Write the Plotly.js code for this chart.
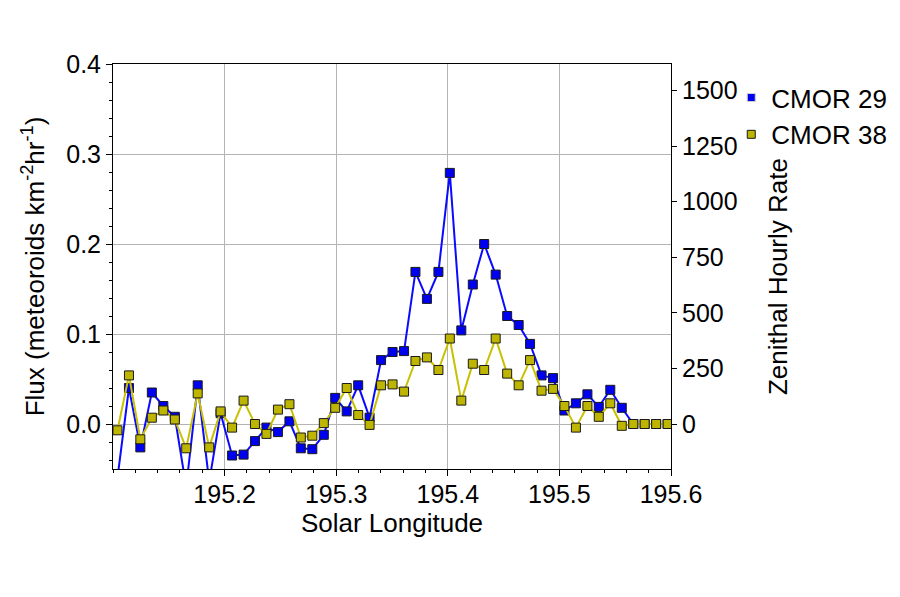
<!DOCTYPE html>
<html>
<head>
<meta charset="utf-8">
<script src="https://cdn.plot.ly/plotly-3.0.1.min.js"></script>
<style>html,body{margin:0;padding:0;background:#fff;}#chart{width:900px;height:597px;}</style>
</head>
<body>
<div id="chart"></div>
<script>
// Solar longitude of each bin (15-minute bins)
var solarLongitude = [
  195.1040, 195.1143, 195.1245, 195.1348, 195.1451, 195.1554, 195.1656, 195.1759, 195.1862, 195.1964,
  195.2067, 195.2170, 195.2272, 195.2375, 195.2478, 195.2581, 195.2683, 195.2786, 195.2889, 195.2991,
  195.3094, 195.3197, 195.3299, 195.3402, 195.3505, 195.3608, 195.3710, 195.3813, 195.3916, 195.4018,
  195.4121, 195.4224, 195.4326, 195.4429, 195.4532, 195.4635, 195.4737, 195.4840, 195.4943, 195.5045,
  195.5148, 195.5251, 195.5353, 195.5456, 195.5559, 195.5662, 195.5764, 195.5867, 195.5970
];

// Flux, meteoroids km^-2 hr^-1
var cmor29 = [
  -0.060, 0.040, -0.026, 0.035, 0.020, 0.008, -0.070, 0.043, -0.064, 0.012,
  -0.035, -0.034, -0.019, -0.004, -0.009, 0.003, -0.027, -0.028, -0.012, 0.029,
  0.014, 0.043, 0.007, 0.071, 0.080, 0.081, 0.169, 0.139, 0.169, 0.279,
  0.104, 0.155, 0.200, 0.166, 0.120, 0.110, 0.089, 0.054, 0.051, 0.015,
  0.023, 0.033, 0.019, 0.038, 0.018, 0.000, 0.000, 0.000, 0.000
];

var cmor38 = [
  -0.007, 0.054, -0.017, 0.007, 0.015, 0.005, -0.027, 0.034, -0.026, 0.014,
  -0.004, 0.026, 0.000, -0.011, 0.016, 0.022, -0.015, -0.013, 0.001, 0.018,
  0.040, 0.010, -0.001, 0.043, 0.044, 0.036, 0.070, 0.074, 0.060, 0.095,
  0.026, 0.067, 0.060, 0.095, 0.056, 0.043, 0.071, 0.037, 0.039, 0.020,
  -0.004, 0.020, 0.008, 0.023, -0.002, 0.000, 0.000, 0.000, 0.000
];

var seriesNames = ["CMOR 29", "CMOR 38"];
var xTickVals = [195.2, 195.3, 195.4, 195.5, 195.6];
var xTickText = ["195.2", "195.3", "195.4", "195.5", "195.6"];
var xTitle = "Solar Longitude";
var yTitle = "Flux (meteoroids km<sup>-2</sup>hr<sup>-1</sup>)";
var y2Title = "Zenithal Hourly Rate";

var fluxRange = [-0.05, 0.4];
var zhrPerFlux = 4046.75;

var colors = {
  blueLine: "#0a0aff", blueFill: "#0000f0",
  oliveLine: "#c8c000", oliveFill: "#bdb500"
};

var traces = [
  {
    x: solarLongitude, y: cmor29, name: seriesNames[0], showlegend: false,
    type: "scatter", mode: "lines+markers", cliponaxis: true,
    line: {color: colors.blueLine, width: 2},
    marker: {symbol: "square", size: 9, color: colors.blueFill, line: {color: "#1a1a1a", width: 1}}
  },
  {
    x: solarLongitude, y: cmor38, name: seriesNames[1], showlegend: false,
    type: "scatter", mode: "lines+markers", cliponaxis: true,
    line: {color: colors.oliveLine, width: 2},
    marker: {symbol: "square", size: 9, color: colors.oliveFill, line: {color: "#1a1a1a", width: 1}}
  },
  // legend entries (marker only, as in the reference legend); no visible points
  {
    x: [null], y: [null], name: seriesNames[0], type: "scatter", mode: "markers", showlegend: true,
    hoverinfo: "skip",
    marker: {symbol: "square", size: 8, color: colors.blueFill, line: {color: "#cfcfcf", width: 1}}
  },
  {
    x: [null], y: [null], name: seriesNames[1], type: "scatter", mode: "markers", showlegend: true,
    hoverinfo: "skip",
    marker: {symbol: "square", size: 8, color: colors.oliveFill, line: {color: "#1a1a1a", width: 1}}
  },
  {
    x: [null], y: [null], yaxis: "y2", type: "scatter", mode: "markers",
    showlegend: false, hoverinfo: "skip"
  }
];

var tickFont = {family: "Liberation Sans, Arial, sans-serif", size: 25, color: "#000"};
var titleFont = {family: "Liberation Sans, Arial, sans-serif", size: 26, color: "#000"};

var layout = {
  width: 900, height: 597,
  margin: {l: 113, r: 229, t: 64, b: 128, pad: 0, autoexpand: false},
  paper_bgcolor: "#fff", plot_bgcolor: "#fff",
  font: {family: "Liberation Sans, Arial, sans-serif", color: "#000"},
  showlegend: true,
  legend: {
    x: 1.108, y: 0.975, xanchor: "left", yanchor: "top",
    font: titleFont, bgcolor: "rgba(0,0,0,0)", itemwidth: 30, tracegroupgap: 0
  },
  xaxis: {
    range: [195.1, 195.6], tickmode: "array", tickvals: xTickVals, ticktext: xTickText,
    ticks: "outside", ticklen: 6, tickcolor: "#000", tickfont: tickFont, ticklabelstandoff: -3,
    showline: true, linecolor: "#000", linewidth: 1, mirror: true, automargin: false,
    showgrid: true, gridcolor: "#b4b4b4", gridwidth: 1, zeroline: false,
    minor: {dtick: 0.02, tick0: 195.2, ticks: "outside", ticklen: 3, tickcolor: "#000", showgrid: false},
    title: {text: xTitle, font: titleFont, standoff: 2}
  },
  yaxis: {
    range: fluxRange, tick0: 0, dtick: 0.1, tickformat: ".1f",
    ticks: "outside", ticklen: 6, tickcolor: "#000", tickfont: tickFont,
    showline: true, linecolor: "#000", linewidth: 1, automargin: false,
    showgrid: true, gridcolor: "#b4b4b4", gridwidth: 1, zeroline: false,
    minor: {dtick: 0.02, tick0: 0, ticks: "outside", ticklen: 3, tickcolor: "#000", showgrid: false},
    title: {text: yTitle, font: titleFont, standoff: 14}
  },
  yaxis2: {
    overlaying: "y", side: "right",
    range: [fluxRange[0] * zhrPerFlux, fluxRange[1] * zhrPerFlux], tick0: 0, dtick: 250,
    ticks: "outside", ticklen: 5, tickcolor: "#000", tickfont: tickFont,
    showline: true, linecolor: "#000", linewidth: 1, automargin: false,
    showgrid: false, zeroline: false
  },
  annotations: [
    {
      text: y2Title, font: titleFont, textangle: -90, showarrow: false,
      xref: "paper", yref: "paper", x: 1.1918, y: 0.474,
      xanchor: "center", yanchor: "middle"
    }
  ]
};

Plotly.newPlot("chart", traces, layout, {displayModeBar: false, staticPlot: true});
</script>
</body>
</html>
